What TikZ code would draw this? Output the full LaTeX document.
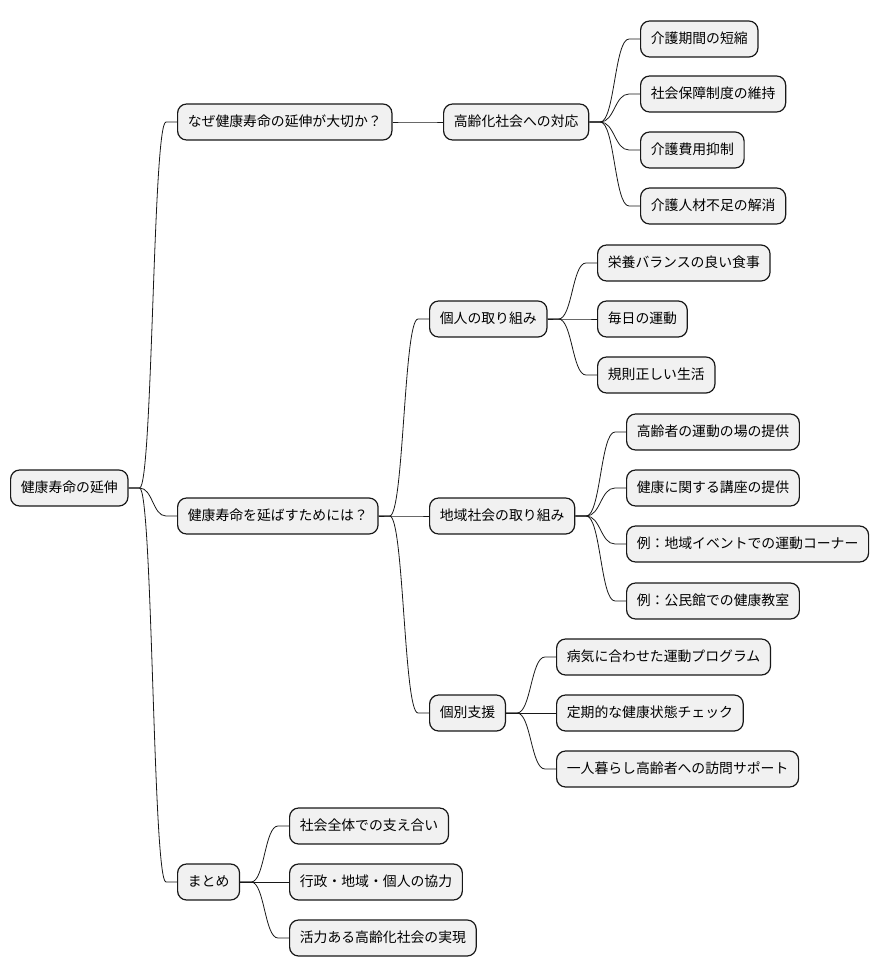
\documentclass[tikz,border=0pt]{standalone}
\usepackage{fontspec}
\usepackage{tikz}
\usetikzlibrary{calc}
\newfontfamily\cjk{Noto Sans CJK JP}
\definecolor{boxfill}{HTML}{F1F1F1}
\definecolor{boxline}{HTML}{181818}

\begin{document}
\begin{tikzpicture}[x=1pt,y=-1pt,
topic/.style={draw=boxline,fill=boxfill,line width=1.2pt,rounded corners=9pt,anchor=west,
  minimum height=36pt,inner xsep=10.2pt,inner ysep=0pt,text height=11.5pt,text depth=2.5pt,
  font=\cjk\fontsize{13.85pt}{16pt}\selectfont},
link/.style={draw=boxline,line width=0.8pt}]
\useasboundingbox (0,0) rectangle (880,978);
% root and first level
\node[topic] (root) at (10,488) {健康寿命の延伸};
\node[topic] (why) at (177,122) {なぜ健康寿命の延伸が大切か？};
\node[topic] (how) at (177,516) {健康寿命を延ばすためには？};
\node[topic] (sum) at (177,882) {まとめ};
% why
\node[topic] (aging) at (443,122) {高齢化社会への対応};
\node[topic] (a1) at (640,39) {介護期間の短縮};
\node[topic] (a2) at (640,94) {社会保障制度の維持};
\node[topic] (a3) at (640,150) {介護費用抑制};
\node[topic] (a4) at (640,206) {介護人材不足の解消};
% how
\node[topic] (self) at (429,319) {個人の取り組み};
\node[topic] (s1) at (597,263) {栄養バランスの良い食事};
\node[topic] (s2) at (597,319) {毎日の運動};
\node[topic] (s3) at (597,375) {規則正しい生活};
\node[topic] (local) at (429,516) {地域社会の取り組み};
\node[topic] (l1) at (626,432) {高齢者の運動の場の提供};
\node[topic] (l2) at (626,488) {健康に関する講座の提供};
\node[topic] (l3) at (626,544) {例：地域イベントでの運動コーナー};
\node[topic] (l4) at (626,601) {例：公民館での健康教室};
\node[topic] (care) at (429,713) {個別支援};
\node[topic] (c1) at (556,657) {病気に合わせた運動プログラム};
\node[topic] (c2) at (556,713) {定期的な健康状態チェック};
\node[topic] (c3) at (556,769) {一人暮らし高齢者への訪問サポート};
% summary
\node[topic] (m1) at (289,826) {社会全体での支え合い};
\node[topic] (m2) at (289,882) {行政・地域・個人の協力};
\node[topic] (m3) at (289,938) {活力ある高齢化社会の実現};
% links
\foreach \a/\b in {root/why,root/how,root/sum,why/aging,aging/a1,aging/a2,aging/a3,aging/a4,
  how/self,how/local,how/care,self/s1,self/s2,self/s3,local/l1,local/l2,local/l3,local/l4,
  care/c1,care/c2,care/c3,sum/m1,sum/m2,sum/m3}
  \draw[link] let \p1=(\a.east), \p2=(\b.west) in
    (\p1) -- (\x1+11,\y1) .. controls (\x1/2+\x2/2,\y1) and (\x1/2+\x2/2,\y2) .. (\x2-11,\y2) -- (\p2);
\end{tikzpicture}
\end{document}
